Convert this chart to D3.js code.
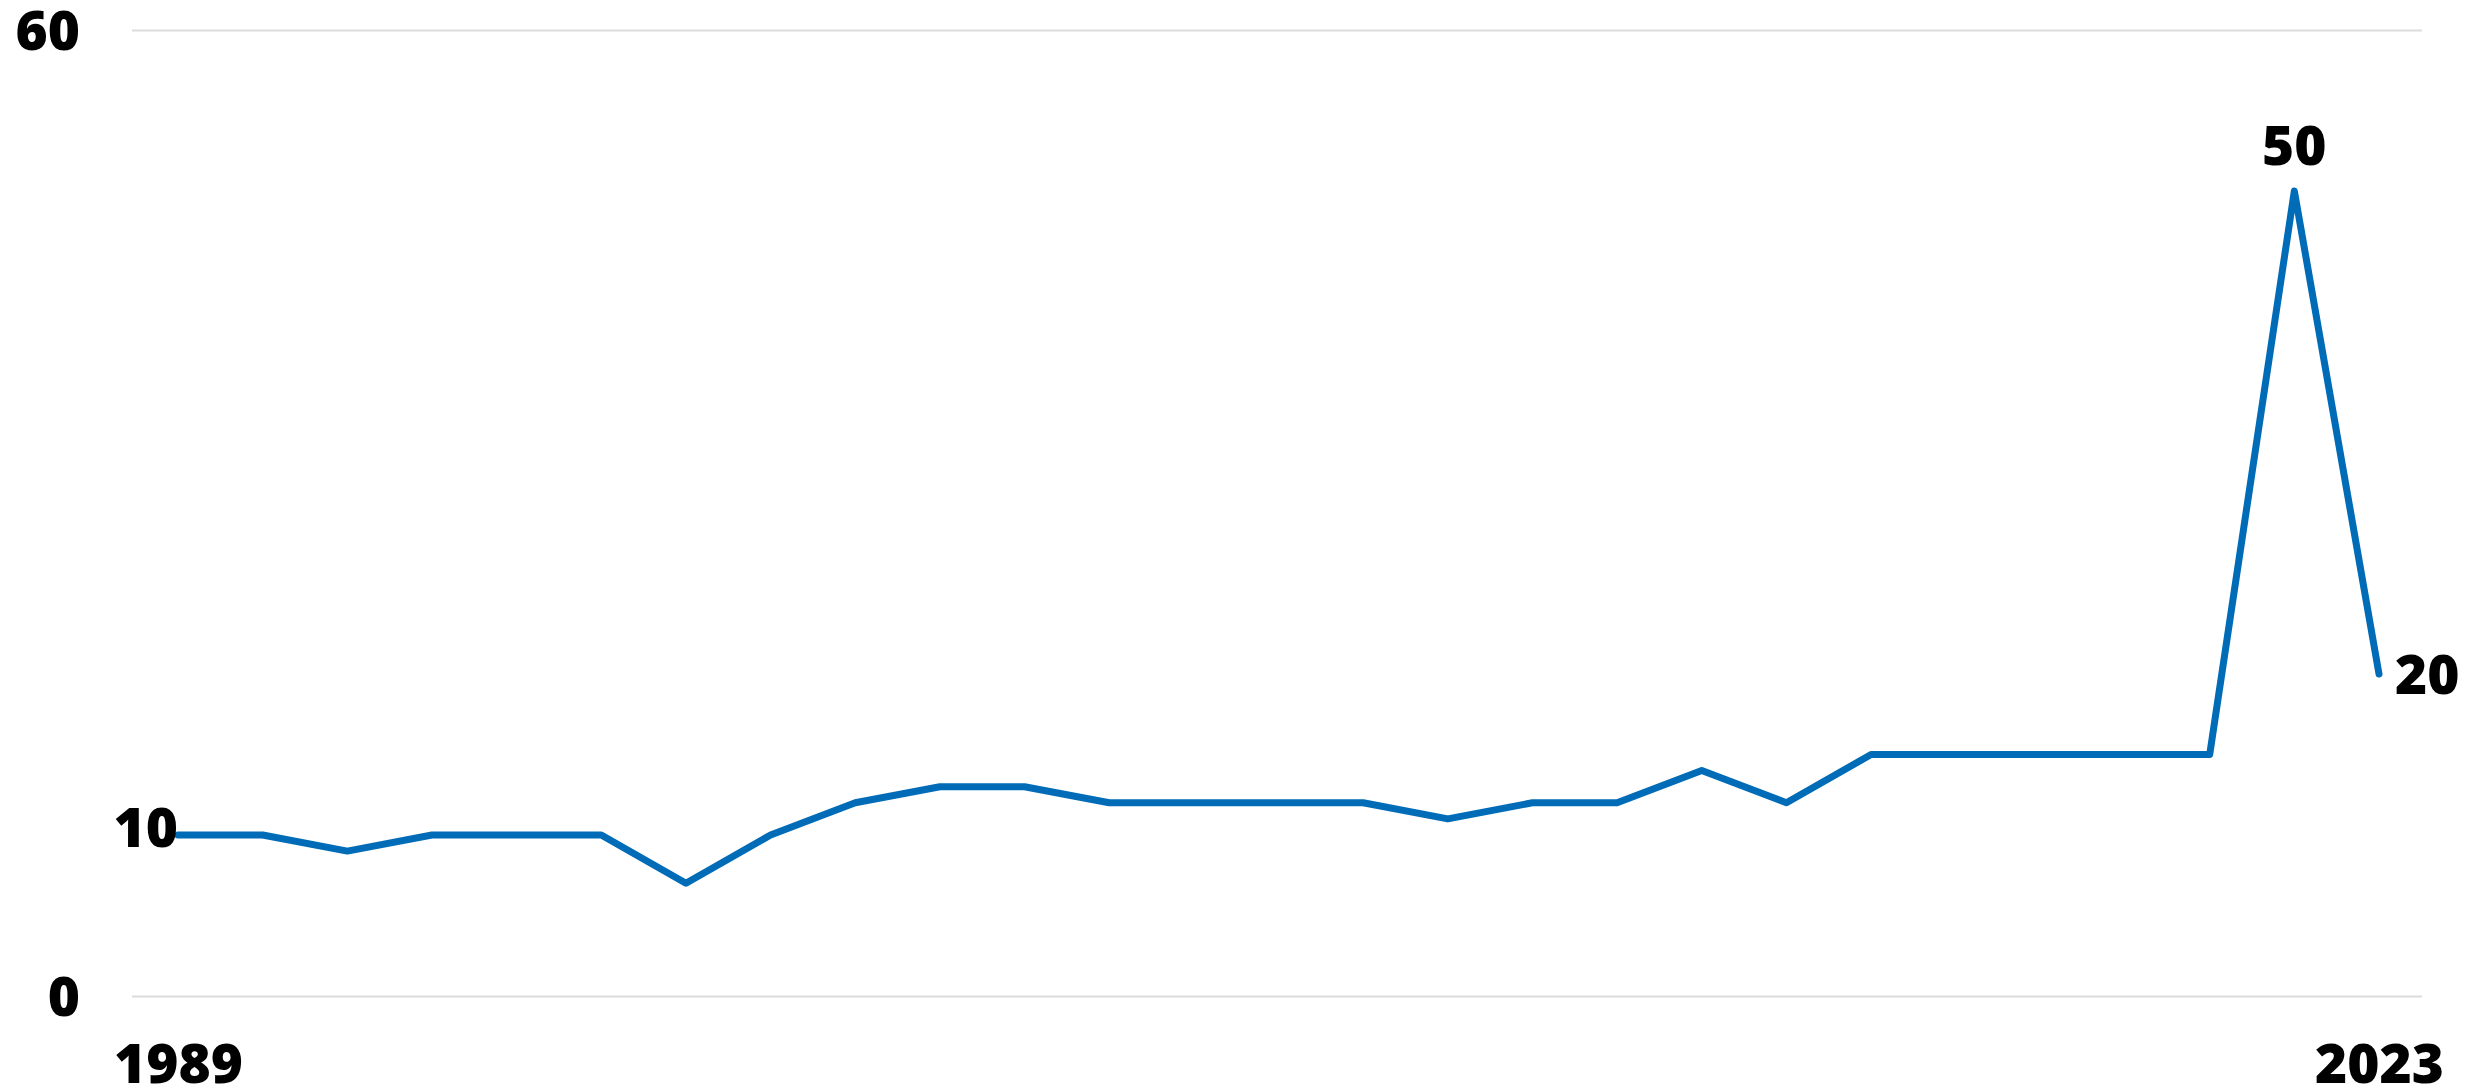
<!DOCTYPE html>
<html>
<head>
<meta charset="utf-8">
<script src="https://cdn.jsdelivr.net/npm/d3@7"></script>
<style>
  body { margin: 0; background: #fff; }
  text { font-family: "Open Sans", Lato, sans-serif; font-weight: 800; fill: #000; }
</style>
</head>
<body>
<div id="chart"></div>
<script>
var width = 2484;
var height = 1091;

// data
var years = ["1989", "1990", "1991", "1993", "1994", "1995", "1997", "1998", "1999",
  "2001", "2002", "2003", "2005", "2006", "2007", "2009", "2010", "2011",
  "2013", "2014", "2015", "2017", "2018", "2019", "2021", "2022", "2023"];
var values = [10, 10, 9, 10, 10, 10, 7, 10, 12, 13, 13, 12, 12, 12, 12, 11, 12, 12,
  14, 12, 15, 15, 15, 15, 15, 50, 20];
var yTicks = [0, 60];
var xTicks = ["1989", "2023"];
var labelled = ["1989", "2022", "2023"];

var plot = { left: 178, right: 2379, top: 30, bottom: 996 };
var grid = { left: 132, right: 2422 };
var fontSize = 55;

var data = years.map((d, i) => ({ year: d, value: values[i] }));

var svg = d3.select("#chart").append("svg")
  .attr("width", width)
  .attr("height", height);

var x = d3.scalePoint().domain(years).range([plot.left, plot.right]);
var y = d3.scaleLinear().domain([0, 60]).range([plot.bottom, plot.top]);

// y gridlines + labels
var yAxis = svg.append("g")
  .attr("transform", "translate(" + grid.right + ",0)")
  .call(d3.axisLeft(y).tickValues(yTicks).tickSize(grid.right - grid.left).tickPadding(52));
yAxis.select(".domain").remove();
yAxis.selectAll(".tick line")
  .attr("stroke", "#dcdcdc")
  .attr("stroke-width", 2);
yAxis.selectAll(".tick text")
  .attr("font-size", fontSize)
  .attr("font-family", null)
  .attr("dy", "0.36em");

// x labels
var xAxis = svg.append("g")
  .attr("transform", "translate(0,1063)")
  .call(d3.axisBottom(x).tickValues(xTicks).tickSize(0).tickPadding(0));
xAxis.select(".domain").remove();
xAxis.selectAll(".tick text")
  .attr("font-size", fontSize)
  .attr("font-family", null)
  .attr("y", 0)
  .attr("dy", "0.36em");

var line = d3.line()
  .x(d => x(d.year))
  .y(d => y(d.value));

svg.append("path")
  .datum(data)
  .attr("fill", "none")
  .attr("stroke", "#006bb6")
  .attr("stroke-width", 7)
  .attr("stroke-linejoin", "round")
  .attr("stroke-linecap", "round")
  .attr("d", line);

// value labels at first, peak and last point
var lab = data.filter(d => labelled.includes(d.year));
svg.append("g")
  .selectAll("text")
  .data(lab)
  .enter()
  .append("text")
  .attr("font-size", fontSize)
  .attr("x", (d, i) => i == 0 ? x(d.year) : i == 1 ? x(d.year) : x(d.year) + 16)
  .attr("y", (d, i) => i == 0 ? y(d.value) - 8 : i == 1 ? y(d.value) - 46 : y(d.value))
  .attr("dy", "0.36em")
  .attr("text-anchor", (d, i) => i == 0 ? "end" : i == 1 ? "middle" : "start")
  .text(d => d.value);
</script>
</body>
</html>
